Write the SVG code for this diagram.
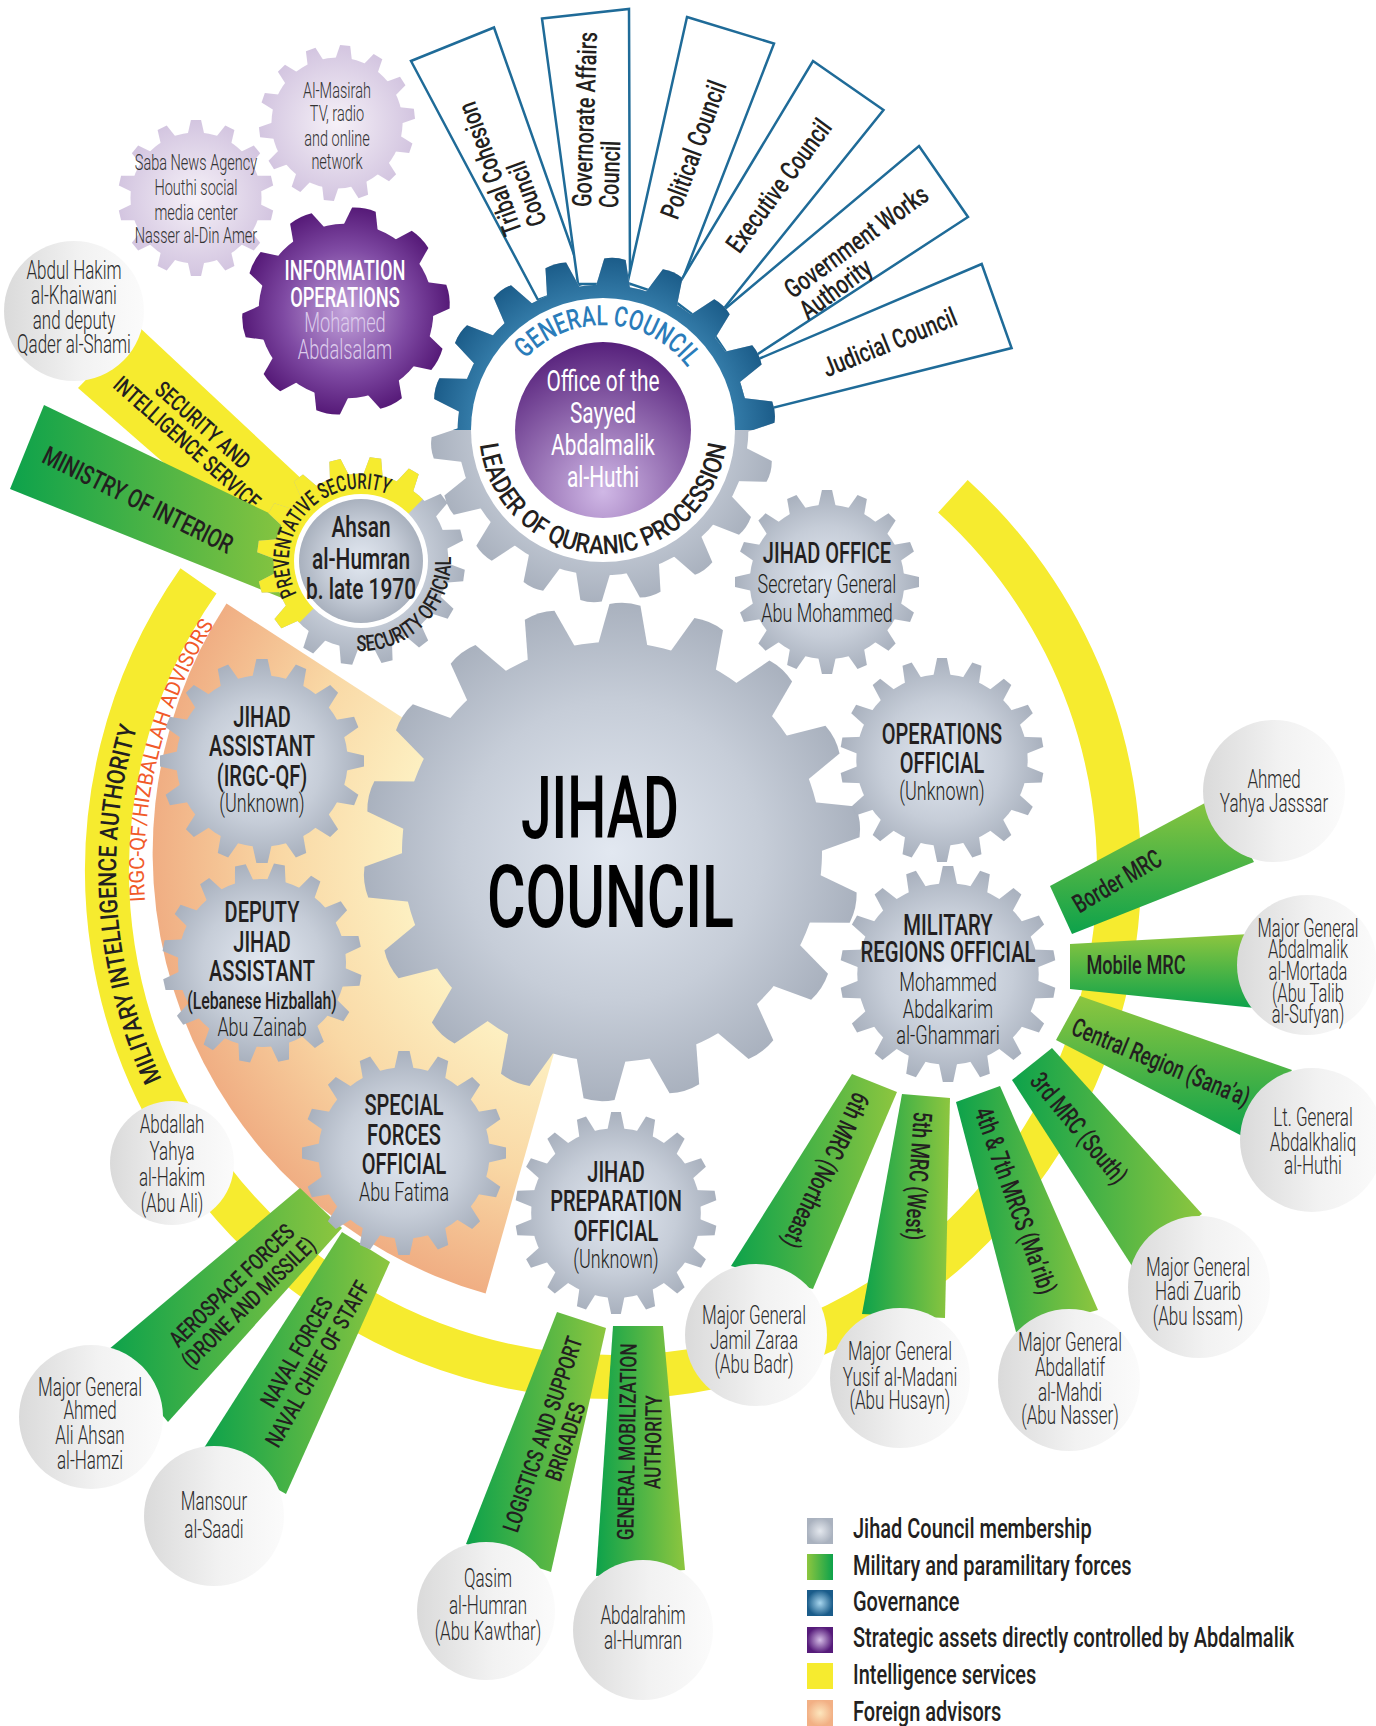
<svg xmlns="http://www.w3.org/2000/svg" width="1376" height="1726" viewBox="0 0 1376 1726">
<style>
text{font-family:Roboto,"Liberation Sans",Arial,sans-serif;fill:#231f20}
.tt{font-size:29px;font-weight:500}
.nm{font-size:26px;font-weight:300}
.cn{font-size:25px;font-weight:300;fill:#2b2b2b}
.bl{font-size:26px;font-weight:500}
.bc{font-size:23px;font-weight:500}
.gv{font-size:27px;font-weight:500}
.lg{font-size:27px;font-weight:500}
.lv{font-size:22px;font-weight:300;fill:#333}
.box{fill:#fff;stroke:#1f6b98;stroke-width:2.5}
.circ{fill:url(#gCirc)}
</style>
<defs>
<radialGradient id="gGray" gradientUnits="userSpaceOnUse" cx="0" cy="0" r="100"><stop offset="0" stop-color="#e2e8f1"/><stop offset="0.6" stop-color="#c6cdd8"/><stop offset="1" stop-color="#a9b1be"/></radialGradient>
<radialGradient id="gGrayB" cx="0.5" cy="0.5" r="0.5"><stop offset="0" stop-color="#e2e8f1"/><stop offset="0.6" stop-color="#c6cdd8"/><stop offset="1" stop-color="#a9b1be"/></radialGradient>
<radialGradient id="gBlue" gradientUnits="userSpaceOnUse" cx="0" cy="0" r="100"><stop offset="0" stop-color="#7fb8d9"/><stop offset="0.7" stop-color="#3a83b0"/><stop offset="1" stop-color="#1b5c89"/></radialGradient>
<radialGradient id="gPurp" gradientUnits="userSpaceOnUse" cx="0" cy="0" r="100"><stop offset="0" stop-color="#c4a5dc"/><stop offset="0.6" stop-color="#7f4aa3"/><stop offset="1" stop-color="#561a78"/></radialGradient>
<radialGradient id="gLav" gradientUnits="userSpaceOnUse" cx="0" cy="0" r="100"><stop offset="0" stop-color="#f6f1f8"/><stop offset="1" stop-color="#d3c5e0"/></radialGradient>
<radialGradient id="gPurpC" cx="0.5" cy="0.85" r="0.85"><stop offset="0" stop-color="#d0b8e6"/><stop offset="1" stop-color="#56207b"/></radialGradient>
<linearGradient id="gCirc" x1="0" y1="0" x2="1" y2="0"><stop offset="0" stop-color="#dadada"/><stop offset="0.55" stop-color="#f2f2f2"/><stop offset="1" stop-color="#fbfbfb"/></linearGradient>
<linearGradient id="gH" x1="0" y1="0" x2="1" y2="0"><stop offset="0" stop-color="#0da24b"/><stop offset="1" stop-color="#8dc63f"/></linearGradient>
<linearGradient id="gV" x1="0" y1="0" x2="0" y2="1"><stop offset="0" stop-color="#8dc63f"/><stop offset="1" stop-color="#0da24b"/></linearGradient>
<radialGradient id="gOr" gradientUnits="userSpaceOnUse" cx="611" cy="853" r="458"><stop offset="0.45" stop-color="#fdf0c2"/><stop offset="0.72" stop-color="#f9d8a5"/><stop offset="1" stop-color="#f0ae83"/></radialGradient>
<radialGradient id="lg1" cx="0.5" cy="0.5" r="0.5"><stop offset="0" stop-color="#e4e8ee"/><stop offset="1" stop-color="#aab2bf"/></radialGradient>
<linearGradient id="lg2" x1="0" y1="0" x2="1" y2="0"><stop offset="0" stop-color="#8dc63f"/><stop offset="1" stop-color="#0da24b"/></linearGradient>
<radialGradient id="lg3" cx="0.5" cy="0.5" r="0.5"><stop offset="0" stop-color="#a8d6ee"/><stop offset="1" stop-color="#1a5c8a"/></radialGradient>
<radialGradient id="lg4" cx="0.5" cy="0.5" r="0.5"><stop offset="0" stop-color="#d5bde6"/><stop offset="1" stop-color="#561b7a"/></radialGradient>
<radialGradient id="lg6" cx="0.5" cy="0.5" r="0.5"><stop offset="0" stop-color="#fde6bd"/><stop offset="1" stop-color="#f2b085"/></radialGradient>
<clipPath id="cTop"><rect x="400" y="230" width="410" height="200"/></clipPath>
<clipPath id="cPrev"><polygon points="161,761 561,361 161,361"/></clipPath>
<path id="t10" d="M-17-80L-11.5-99Q0-101.5 11.5-99L17-80Z"/>
<path id="t14" d="M-11-80L-6.5-100L6.5-100L11-80Z"/>
<path id="t16" d="M-10-80L-5.5-100L5.5-100L10-80Z"/>
<path id="t18" d="M-9-80L-4.8-100L4.8-100L9-80Z"/>
<path id="tW" d="M-10.5-80L-6.2-99Q0-100.6 6.2-99L10.5-80Z"/>
<g id="g10"><circle r="84"/><use href="#t10"/><use href="#t10" transform="rotate(36)"/><use href="#t10" transform="rotate(72)"/><use href="#t10" transform="rotate(108)"/><use href="#t10" transform="rotate(144)"/><use href="#t10" transform="rotate(180)"/><use href="#t10" transform="rotate(216)"/><use href="#t10" transform="rotate(252)"/><use href="#t10" transform="rotate(288)"/><use href="#t10" transform="rotate(324)"/></g>
<g id="g14"><circle r="84"/><use href="#t14"/><use href="#t14" transform="rotate(25.71)"/><use href="#t14" transform="rotate(51.43)"/><use href="#t14" transform="rotate(77.14)"/><use href="#t14" transform="rotate(102.86)"/><use href="#t14" transform="rotate(128.57)"/><use href="#t14" transform="rotate(154.29)"/><use href="#t14" transform="rotate(180)"/><use href="#t14" transform="rotate(205.71)"/><use href="#t14" transform="rotate(231.43)"/><use href="#t14" transform="rotate(257.14)"/><use href="#t14" transform="rotate(282.86)"/><use href="#t14" transform="rotate(308.57)"/><use href="#t14" transform="rotate(334.29)"/></g>
<g id="g16"><circle r="84"/><use href="#t16"/><use href="#t16" transform="rotate(22.5)"/><use href="#t16" transform="rotate(45)"/><use href="#t16" transform="rotate(67.5)"/><use href="#t16" transform="rotate(90)"/><use href="#t16" transform="rotate(112.5)"/><use href="#t16" transform="rotate(135)"/><use href="#t16" transform="rotate(157.5)"/><use href="#t16" transform="rotate(180)"/><use href="#t16" transform="rotate(202.5)"/><use href="#t16" transform="rotate(225)"/><use href="#t16" transform="rotate(247.5)"/><use href="#t16" transform="rotate(270)"/><use href="#t16" transform="rotate(292.5)"/><use href="#t16" transform="rotate(315)"/><use href="#t16" transform="rotate(337.5)"/></g>
<g id="g18"><circle r="84"/><use href="#t18"/><use href="#t18" transform="rotate(20)"/><use href="#t18" transform="rotate(40)"/><use href="#t18" transform="rotate(60)"/><use href="#t18" transform="rotate(80)"/><use href="#t18" transform="rotate(100)"/><use href="#t18" transform="rotate(120)"/><use href="#t18" transform="rotate(140)"/><use href="#t18" transform="rotate(160)"/><use href="#t18" transform="rotate(180)"/><use href="#t18" transform="rotate(200)"/><use href="#t18" transform="rotate(220)"/><use href="#t18" transform="rotate(240)"/><use href="#t18" transform="rotate(260)"/><use href="#t18" transform="rotate(280)"/><use href="#t18" transform="rotate(300)"/><use href="#t18" transform="rotate(320)"/><use href="#t18" transform="rotate(340)"/></g>
<g id="gW"><circle r="84"/><use href="#tW"/><use href="#tW" transform="rotate(20)"/><use href="#tW" transform="rotate(40)"/><use href="#tW" transform="rotate(60)"/><use href="#tW" transform="rotate(80)"/><use href="#tW" transform="rotate(100)"/><use href="#tW" transform="rotate(120)"/><use href="#tW" transform="rotate(140)"/><use href="#tW" transform="rotate(160)"/><use href="#tW" transform="rotate(180)"/><use href="#tW" transform="rotate(200)"/><use href="#tW" transform="rotate(220)"/><use href="#tW" transform="rotate(240)"/><use href="#tW" transform="rotate(260)"/><use href="#tW" transform="rotate(280)"/><use href="#tW" transform="rotate(300)"/><use href="#tW" transform="rotate(320)"/><use href="#tW" transform="rotate(340)"/></g>
<path id="pMil" d="M201 1148.9A497 497 0 0 1 166.3 653.1"/>
<path id="pIrgc" d="M162.2 1000.3A469 469 0 0 1 275.6 545.2"/>
<path id="pGC" d="M500.7 406.4A105 105 0 0 1 707.2 417.2"/>
<path id="pLQ" d="M479 430A124 124 0 0 0 727 430"/>
<path id="pPS" d="M305.8 607.3A72 72 0 0 1 402.3 502"/>
<path id="pSO" d="M303.1 629.9A90 90 0 0 0 429.9 503.1"/>
</defs>
<rect width="1376" height="1726" fill="#fff"/>

<g id="n-intelligence-ring">
<path d="M952.9 496.2A506 506 0 1 1 198.5 580.8" fill="none" stroke="#f6eb2f" stroke-width="44"/>
<text font-size="25" font-weight="500"><textPath href="#pMil" startOffset="50%" text-anchor="middle" textLength="360" lengthAdjust="spacingAndGlyphs">MILITARY INTELLIGENCE AUTHORITY</textPath></text>
</g>
<g id="n-foreign-advisors">
<path d="M611 853L485.6 1293.5A458 458 0 0 1 226.5 603.5Z" fill="url(#gOr)"/>
<text font-size="21" style="fill:#f15a29"><textPath href="#pIrgc" startOffset="50%" text-anchor="middle" textLength="290" lengthAdjust="spacingAndGlyphs">IRGC-QF/HIZBALLAH ADVISORS</textPath></text>
</g>

<g id="governance">
<g id="n-tribal"><polygon class="box" points="411,61 494,27.5 584,283 538,300"/><g transform="translate(515 234) rotate(-110) scale(0.74 1)"><text class="gv" y="8">Tribal Cohesion</text><text class="gv" y="34">Council</text></g></g>
<g id="n-governorate"><polygon class="box" points="542,18.6 629,9 630,284 578,284"/><g transform="translate(583 207) rotate(-88) scale(0.74 1)"><text class="gv" y="8">Governorate Affairs</text><text class="gv" y="35">Council</text></g></g>
<g id="n-political"><polygon class="box" points="687,17 774,43.6 675,299 627.5,283"/><g transform="translate(670 218) rotate(-70) scale(0.74 1)"><text class="gv" y="8">Political Council</text></g></g>
<g id="n-executive"><polygon class="box" points="813,61 883.5,110 709,327 670.5,298"/><g transform="translate(733 250) rotate(-53.6) scale(0.74 1)"><text class="gv" y="8">Executive Council</text></g></g>
<g id="n-govworks"><polygon class="box" points="919,146 968,217 736.5,368 707,324"/><g transform="translate(788 293) rotate(-36.2) scale(0.74 1)"><text class="gv" y="8">Government Works</text><text class="gv" y="34">Authority</text></g></g>
<g id="n-judicial"><polygon class="box" points="981.7,264 1011.6,348 748,414 735,369"/><g transform="translate(824 370) rotate(-21.9) scale(0.74 1)"><text class="gv" y="8">Judicial Council</text></g></g>
</g>

<g id="connectors">
<g id="c-security"><polygon points="138,326 322,498 282,566 78,388" fill="#f6eb2f"/><g transform="translate(195 434) rotate(41.6) scale(0.75 1)" text-anchor="middle"><text class="bc" font-size="24" y="-4">SECURITY AND</text><text class="bc" font-size="24" y="20">INTELLIGENCE SERVICE</text></g></g>
<g id="c-ministry"><polygon points="44,405 300,528 282,598 10,489" fill="url(#gH)"/><g transform="translate(138 500) rotate(26.3) scale(0.75 1)" text-anchor="middle"><text class="bc" style="font-size:26px" y="9">MINISTRY OF INTERIOR</text></g></g>
<g id="c-border"><polygon points="1050,886 1218,796 1254,862 1072,934" fill="url(#gV)"/><g transform="translate(1117 881) rotate(-30.4) scale(0.7 1)" text-anchor="middle"><text class="bl" y="9">Border MRC</text></g></g>
<g id="c-mobile"><polygon points="1070,944 1250,934 1255,1008 1070,989" fill="url(#gV)"/><g transform="translate(1136 965) scale(0.7 1)" text-anchor="middle"><text class="bl" y="9">Mobile MRC</text></g></g>
<g id="c-central"><polygon points="1080,996 1292,1070 1246,1138 1056,1040" fill="url(#gV)"/><g transform="translate(1161 1062) rotate(22.5) scale(0.7 1)" text-anchor="middle"><text class="bl" y="9">Central Region (Sana’a)</text></g></g>
<g id="c-3rd"><polygon points="1052,1048 1202,1214 1132,1266 1012,1080" fill="url(#gH)"/><g transform="translate(1079 1128) rotate(50.3) scale(0.7 1)" text-anchor="middle"><text class="bl" y="9">3rd MRC (South)</text></g></g>
<g id="c-4th7th"><polygon points="956,1102 1000,1086 1098,1310 1016,1332" fill="url(#gH)"/><g transform="translate(1015.5 1200.5) rotate(70.3) scale(0.7 1)" text-anchor="middle"><text class="bl" y="9">4th &amp; 7th MRCS (Ma’rib)</text></g></g>
<g id="c-5th"><polygon points="902,1094 950,1098 945,1318 862,1314" fill="url(#gH)"/><g transform="translate(918.5 1176) rotate(94) scale(0.7 1)" text-anchor="middle"><text class="bl" y="9">5th MRC (West)</text></g></g>
<g id="c-6th"><polygon points="852,1074 897,1092 813,1289 731,1266" fill="url(#gH)"/><g transform="translate(826 1170.5) rotate(115.5) scale(0.7 1)" text-anchor="middle"><text class="bl" y="9">6th MRC (Northeast)</text></g></g>
<g id="c-aerospace"><polygon points="300,1188 342,1228 168,1422 108,1350" fill="url(#gH)"/><g transform="translate(240 1294) rotate(-44.3) scale(0.75 1)" text-anchor="middle"><text class="bc" y="-4">AEROSPACE FORCES</text><text class="bc" y="20">(DRONE AND MISSILE)</text></g></g>
<g id="c-naval"><polygon points="342,1232 390,1262 286,1494 204,1448" fill="url(#gH)"/><g transform="translate(307 1358) rotate(-60.4) scale(0.75 1)" text-anchor="middle"><text class="bc" y="-4">NAVAL FORCES</text><text class="bc" y="20">NAVAL CHIEF OF STAFF</text></g></g>
<g id="c-logistics"><polygon points="557,1312 606,1328 551,1572 466,1544" fill="url(#gH)"/><g transform="translate(554 1438) rotate(-71.4) scale(0.75 1)" text-anchor="middle"><text class="bc" y="-4">LOGISTICS AND SUPPORT</text><text class="bc" y="20">BRIGADES</text></g></g>
<g id="c-mobilization"><polygon points="613,1326 663,1326 685,1570 596,1576" fill="url(#gH)"/><g transform="translate(640 1442) rotate(-89) scale(0.75 1)" text-anchor="middle"><text class="bc" y="-5">GENERAL MOBILIZATION</text><text class="bc" y="21">AUTHORITY</text></g></g>
</g>

<g id="n-jihad-council">
<use href="#gW" transform="translate(612 852) rotate(3) scale(2.5)" fill="url(#gGray)"/>
<text x="600" y="838" font-size="87" font-weight="500" text-anchor="middle" textLength="158" lengthAdjust="spacingAndGlyphs" style="fill:#000">JIHAD</text>
<text x="610.5" y="927" font-size="87" font-weight="500" text-anchor="middle" textLength="247" lengthAdjust="spacingAndGlyphs" style="fill:#000">COUNCIL</text>
</g>

<g id="n-general-council">
<use href="#gW" transform="translate(603 430) rotate(4) scale(1.73)" fill="url(#gGray)"/>
<g clip-path="url(#cTop)"><use href="#gW" transform="translate(603 430) rotate(4) scale(1.73)" fill="url(#gBlue)"/></g>
<circle cx="603" cy="430" r="132" fill="#fff"/>
<circle cx="603" cy="430" r="88" fill="url(#gPurpC)"/>
<text font-size="28" font-weight="500" style="fill:#2a7cba"><textPath href="#pGC" startOffset="50%" text-anchor="middle" textLength="185" lengthAdjust="spacingAndGlyphs">GENERAL COUNCIL</textPath></text>
<text font-size="26" font-weight="500"><textPath href="#pLQ" startOffset="50%" text-anchor="middle" textLength="360" lengthAdjust="spacingAndGlyphs">LEADER OF QURANIC PROCESSION</textPath></text>
<g transform="translate(603 0) scale(0.72 1)" text-anchor="middle" font-size="29" font-weight="400"><text y="391" style="fill:#fff">Office of the</text><text y="423" style="fill:#fff">Sayyed</text><text y="455" style="fill:#fff">Abdalmalik</text><text y="487" style="fill:#fff">al-Huthi</text></g>
</g>

<g id="n-preventative">
<use href="#g16" transform="translate(361 561) rotate(8) scale(1.04)" fill="url(#gGray)"/>
<g clip-path="url(#cPrev)"><use href="#g16" transform="translate(361 561) rotate(8) scale(1.04)" fill="#f6eb2f"/></g>
<circle cx="361" cy="561" r="67" fill="#fff"/>
<circle cx="361" cy="561" r="62" fill="url(#gGrayB)"/>
<text font-size="22" font-weight="500"><textPath href="#pPS" startOffset="50%" text-anchor="middle" textLength="175" lengthAdjust="spacingAndGlyphs">PREVENTATIVE SECURITY</textPath></text>
<text font-size="22" font-weight="500"><textPath href="#pSO" startOffset="50%" text-anchor="middle" textLength="150" lengthAdjust="spacingAndGlyphs">SECURITY OFFICIAL</textPath></text>
<g transform="translate(361 0) scale(0.72 1)" text-anchor="middle" font-size="29" font-weight="500"><text y="537">Ahsan</text><text y="569">al-Humran</text><text y="599">b. late 1970</text></g>
</g>

<g id="n-jihad-office"><use href="#g16" transform="translate(827 582) scale(0.92)" fill="url(#gGray)"/><g transform="translate(827 0) scale(0.69 1)" text-anchor="middle"><text class="tt" y="563">JIHAD OFFICE</text><text class="nm" y="593">Secretary General</text><text class="nm" y="622">Abu Mohammed</text></g></g>
<g id="n-operations"><use href="#g18" transform="translate(942 760) scale(1.02)" fill="url(#gGray)"/><g transform="translate(942 0) scale(0.69 1)" text-anchor="middle"><text class="tt" y="744">OPERATIONS</text><text class="tt" y="773">OFFICIAL</text><text class="nm" y="800">(Unknown)</text></g></g>
<g id="n-military-regions"><use href="#g18" transform="translate(948 974) scale(1.08)" fill="url(#gGray)"/><g transform="translate(948 0) scale(0.7 1)" text-anchor="middle"><text class="tt" y="935">MILITARY</text><text class="tt" y="962">REGIONS OFFICIAL</text><text class="nm" y="991">Mohammed</text><text class="nm" y="1018">Abdalkarim</text><text class="nm" y="1044">al-Ghammari</text></g></g>
<g id="n-jihad-assistant"><use href="#g16" transform="translate(262 761) scale(1.02)" fill="url(#gGray)"/><g transform="translate(262 0) scale(0.69 1)" text-anchor="middle"><text class="tt" y="727">JIHAD</text><text class="tt" y="756">ASSISTANT</text><text class="tt" y="786">(IRGC-QF)</text><text class="nm" y="812">(Unknown)</text></g></g>
<g id="n-deputy"><use href="#g16" transform="translate(262 963) rotate(10) scale(1.0)" fill="url(#gGray)"/><g transform="translate(262 0) scale(0.69 1)" text-anchor="middle"><text class="tt" y="922">DEPUTY</text><text class="tt" y="952">JIHAD</text><text class="tt" y="981">ASSISTANT</text><text class="bc" y="1009">(Lebanese Hizballah)</text><text class="nm" y="1036">Abu Zainab</text></g></g>
<g id="n-special-forces"><use href="#g16" transform="translate(404 1153) scale(1.02)" fill="url(#gGray)"/><g transform="translate(404 0) scale(0.69 1)" text-anchor="middle"><text class="tt" y="1115">SPECIAL</text><text class="tt" y="1145">FORCES</text><text class="tt" y="1174">OFFICIAL</text><text class="nm" y="1201">Abu Fatima</text></g></g>
<g id="n-jihad-prep"><use href="#g18" transform="translate(616 1213) scale(1.01)" fill="url(#gGray)"/><g transform="translate(616 0) scale(0.69 1)" text-anchor="middle"><text class="tt" y="1182">JIHAD</text><text class="tt" y="1211">PREPARATION</text><text class="tt" y="1241">OFFICIAL</text><text class="nm" y="1268">(Unknown)</text></g></g>

<g id="n-saba"><use href="#g14" transform="translate(196 198) scale(0.78)" fill="url(#gLav)"/><g transform="translate(196 0) scale(0.66 1)" text-anchor="middle"><text class="lv" y="170">Saba News Agency</text><text class="lv" y="195">Houthi social</text><text class="lv" y="220">media center</text><text class="lv" y="243">Nasser al-Din Amer</text></g></g>
<g id="n-masirah"><use href="#g14" transform="translate(337 123) rotate(6) scale(0.78)" fill="url(#gLav)"/><g transform="translate(337 0) scale(0.66 1)" text-anchor="middle"><text class="lv" y="98">Al-Masirah</text><text class="lv" y="121">TV, radio</text><text class="lv" y="146">and online</text><text class="lv" y="169">network</text></g></g>
<g id="n-info-ops"><use href="#g10" transform="translate(346 311) rotate(10) scale(1.04)" fill="url(#gPurp)"/><g transform="translate(345 0) scale(0.675 1)" text-anchor="middle" font-size="27"><text y="280" font-weight="500" style="fill:#fff">INFORMATION</text><text y="307" font-weight="500" style="fill:#fff">OPERATIONS</text><text y="332" font-weight="300" style="fill:#dccbeb">Mohamed</text><text y="359" font-weight="300" style="fill:#dccbeb">Abdalsalam</text></g></g>

<g id="people">
<g id="n-abdulhakim"><circle class="circ" cx="74" cy="311" r="70"/><g transform="translate(74 0) scale(0.68 1)" text-anchor="middle"><text class="cn" y="279">Abdul Hakim</text><text class="cn" y="304">al-Khaiwani</text><text class="cn" y="329">and deputy</text><text class="cn" y="353">Qader al-Shami</text></g></g>
<g id="n-jasssar"><circle class="circ" cx="1274" cy="791" r="71"/><g transform="translate(1274 0) scale(0.68 1)" text-anchor="middle"><text class="cn" y="788">Ahmed</text><text class="cn" y="812">Yahya Jasssar</text></g></g>
<g id="n-mortada"><circle class="circ" cx="1307" cy="965" r="70"/><g transform="translate(1308 0) scale(0.66 1)" text-anchor="middle"><text class="cn" y="937">Major General</text><text class="cn" y="958">Abdalmalik</text><text class="cn" y="980">al-Mortada</text><text class="cn" y="1002">(Abu Talib</text><text class="cn" y="1023">al-Sufyan)</text></g></g>
<g id="n-abdalkhaliq"><circle class="circ" cx="1312" cy="1140" r="72"/><g transform="translate(1313 0) scale(0.68 1)" text-anchor="middle"><text class="cn" y="1126">Lt. General</text><text class="cn" y="1151">Abdalkhaliq</text><text class="cn" y="1174">al-Huthi</text></g></g>
<g id="n-hadi"><circle class="circ" cx="1199" cy="1287" r="71"/><g transform="translate(1198 0) scale(0.68 1)" text-anchor="middle"><text class="cn" y="1276">Major General</text><text class="cn" y="1300">Hadi Zuarib</text><text class="cn" y="1325">(Abu Issam)</text></g></g>
<g id="n-abdallatif"><circle class="circ" cx="1069" cy="1380" r="71"/><g transform="translate(1070 0) scale(0.68 1)" text-anchor="middle"><text class="cn" y="1351">Major General</text><text class="cn" y="1376">Abdallatif</text><text class="cn" y="1401">al-Mahdi</text><text class="cn" y="1424">(Abu Nasser)</text></g></g>
<g id="n-yusif"><circle class="circ" cx="900" cy="1378" r="70"/><g transform="translate(900 0) scale(0.68 1)" text-anchor="middle"><text class="cn" y="1360">Major General</text><text class="cn" y="1386">Yusif al-Madani</text><text class="cn" y="1409">(Abu Husayn)</text></g></g>
<g id="n-jamil"><circle class="circ" cx="756" cy="1335" r="71"/><g transform="translate(754 0) scale(0.68 1)" text-anchor="middle"><text class="cn" y="1324">Major General</text><text class="cn" y="1349">Jamil Zaraa</text><text class="cn" y="1373">(Abu Badr)</text></g></g>
<g id="n-abdalrahim"><circle class="circ" cx="643" cy="1630" r="70"/><g transform="translate(643 0) scale(0.68 1)" text-anchor="middle"><text class="cn" y="1624">Abdalrahim</text><text class="cn" y="1649">al-Humran</text></g></g>
<g id="n-qasim"><circle class="circ" cx="486" cy="1611" r="69"/><g transform="translate(488 0) scale(0.68 1)" text-anchor="middle"><text class="cn" y="1587">Qasim</text><text class="cn" y="1614">al-Humran</text><text class="cn" y="1640">(Abu Kawthar)</text></g></g>
<g id="n-mansour"><circle class="circ" cx="214" cy="1516" r="70"/><g transform="translate(214 0) scale(0.68 1)" text-anchor="middle"><text class="cn" y="1510">Mansour</text><text class="cn" y="1538">al-Saadi</text></g></g>
<g id="n-hamzi"><circle class="circ" cx="91" cy="1417" r="72"/><g transform="translate(90 0) scale(0.68 1)" text-anchor="middle"><text class="cn" y="1396">Major General</text><text class="cn" y="1419">Ahmed</text><text class="cn" y="1444">Ali Ahsan</text><text class="cn" y="1469">al-Hamzi</text></g></g>
<g id="n-abdallah"><circle class="circ" cx="172" cy="1163" r="62"/><g transform="translate(172 0) scale(0.68 1)" text-anchor="middle"><text class="cn" y="1133">Abdallah</text><text class="cn" y="1160">Yahya</text><text class="cn" y="1186">al-Hakim</text><text class="cn" y="1212">(Abu Ali)</text></g></g>
</g>

<g id="legend">
<rect x="807" y="1518" width="26" height="26" fill="url(#lg1)"/>
<rect x="807" y="1554" width="26" height="26" fill="url(#lg2)"/>
<rect x="807" y="1590" width="26" height="26" fill="url(#lg3)"/>
<rect x="807" y="1627" width="26" height="26" fill="url(#lg4)"/>
<rect x="807" y="1663" width="26" height="26" fill="#f6eb2f"/>
<rect x="807" y="1700" width="26" height="26" fill="url(#lg6)"/>
<g transform="translate(853 0) scale(0.74 1)"><text class="lg" y="1538">Jihad Council membership</text><text class="lg" y="1575">Military and paramilitary forces</text><text class="lg" y="1611">Governance</text><text class="lg" y="1647">Strategic assets directly controlled by Abdalmalik</text><text class="lg" y="1684">Intelligence services</text><text class="lg" y="1721">Foreign advisors</text></g>
</g>
</svg>
